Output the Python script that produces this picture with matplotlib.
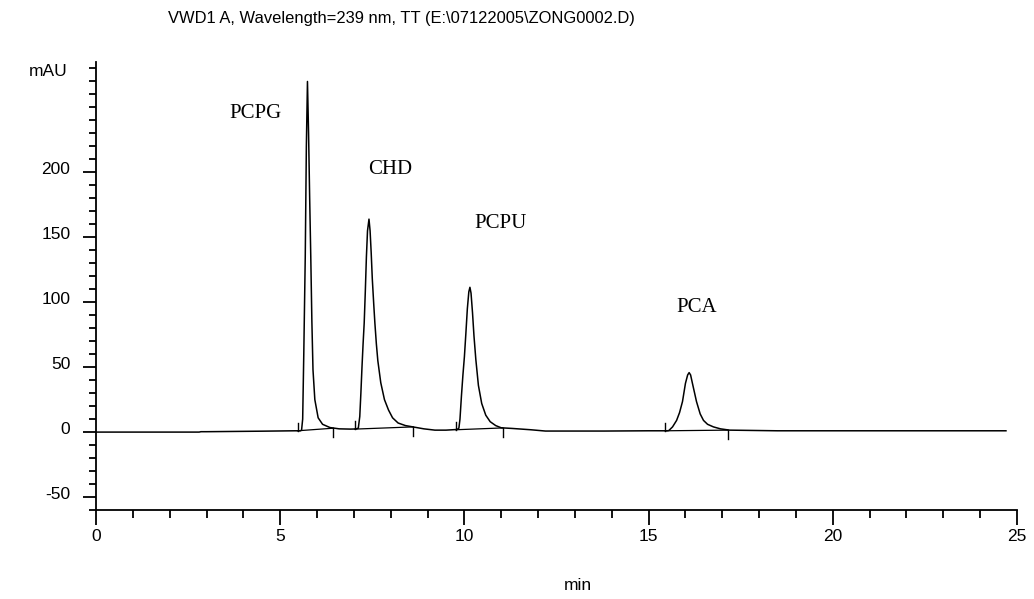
import numpy as np
from matplotlib import pyplot as plt
from matplotlib.ticker import FixedLocator, MultipleLocator
from matplotlib.transforms import ScaledTranslation

plt.rcParams['axes.unicode_minus'] = False

# 色谱图数据 (时间 min, 信号 mAU)
trace_t = [0, 2.8, 2.85, 3.0, 4.5, 5.4, 5.55,
           5.58, 5.61, 5.64, 5.68, 5.71, 5.74, 5.77, 5.80, 5.83, 5.86, 5.89, 5.94,
           6.03, 6.15, 6.35, 6.6, 6.9, 7.05,
           7.12, 7.16, 7.19, 7.22, 7.25, 7.28, 7.31, 7.34, 7.37, 7.41, 7.44, 7.47,
           7.50, 7.54, 7.57, 7.61, 7.65, 7.73, 7.83, 7.94, 8.05, 8.2, 8.4, 8.6,
           8.9, 9.2, 9.5, 9.8,
           9.85, 9.88, 9.92, 9.96, 10.0, 10.04, 10.08, 10.12, 10.15, 10.18, 10.22,
           10.26, 10.31, 10.38, 10.47, 10.58, 10.7, 10.85, 11.0, 11.3, 11.8, 12.2,
           13.8, 15.0, 15.5,
           15.55, 15.65, 15.76, 15.84, 15.92, 16.0, 16.06, 16.1, 16.14, 16.19, 16.3,
           16.4, 16.49, 16.6, 16.76, 16.95, 17.2, 18.5, 24.7]
trace_mau = [0, 0, 0.3, 0.3, 0.7, 1, 1,
             1.5, 10, 60, 135, 220, 270, 230, 180, 135, 85, 48, 25,
             11, 6, 3.5, 2.5, 2.3, 2.4,
             3, 12, 30, 50, 68, 84, 108, 135, 155, 164, 155, 138,
             118, 98, 84, 68, 55, 38, 25, 17, 11, 7, 5, 4,
             2.5, 1.5, 1.5, 2,
             3, 10, 28, 44, 58, 76, 95, 108, 111.5, 107, 92,
             74, 56, 36, 22, 13, 8, 5, 3.3, 2.8, 1.8, 0.8,
             0.8, 1, 1,
             1.2, 4, 9, 15, 23.5, 37.5, 44, 45.8, 44, 37.5, 23.5,
             14, 9, 6, 4, 2.5, 1.5, 1, 1]

# 峰名及标注位置
peak_names = ['PCPG', 'CHD', 'PCPU', 'PCA']
label_t = [4.32, 7.98, 10.97, 16.31]
label_mau = [245, 202, 161, 96]

# 积分基线起点和终点
int_start = [5.47, 7.03, 9.77, 15.45]
int_start_y = [1, 2.3, 1.8, 1]
int_end = [6.44, 8.61, 11.04, 17.15]
int_end_y = [3, 4, 3.2, 1.5]

fig = plt.figure(figsize=(10.34, 5.99), dpi=100)
ax = fig.add_axes([96 / 1034, 89 / 599, 921 / 1034, 448 / 599])

ax.plot(trace_t, trace_mau, color='black', lw=1.1)
for i in range(len(int_start)):
    ax.plot([int_start[i], int_end[i]], [int_start_y[i], int_end_y[i]], color='black', lw=0.9)
    ax.plot([int_start[i], int_start[i]], [int_start_y[i], int_start_y[i] + 6], color='black', lw=1.0)
    ax.plot([int_end[i], int_end[i]], [int_end_y[i], int_end_y[i] - 7], color='black', lw=1.0)

for name, t, y in zip(peak_names, label_t, label_mau):
    ax.text(t, y, name, ha='center', va='center', fontsize=15, family='Liberation Serif')

ax.set_xlim(0, 25)
ax.set_ylim(-60, 285)
for s in ['top', 'right']:
    ax.spines[s].set_visible(False)
for s in ['left', 'bottom']:
    ax.spines[s].set_linewidth(1.3)

ax.xaxis.set_major_locator(FixedLocator([0, 5, 10, 15, 20, 25]))
ax.xaxis.set_minor_locator(MultipleLocator(1))
ax.yaxis.set_major_locator(FixedLocator([-50, 0, 50, 100, 150, 200]))
ax.yaxis.set_minor_locator(MultipleLocator(10))
ax.tick_params(axis='x', which='major', length=11, width=1.3, pad=3, labelsize=12.5)
ax.tick_params(axis='x', which='minor', length=5.5, width=1.3)
ax.tick_params(axis='y', which='major', length=9.4, width=1.3, pad=9, labelsize=12.5)
ax.tick_params(axis='y', which='minor', length=5, width=1.3)
shift = ScaledTranslation(0, 4 / 100, fig.dpi_scale_trans)
for lab in ax.get_xticklabels():
    lab.set_family('Liberation Sans')
for lab in ax.get_yticklabels():
    lab.set_family('Liberation Sans')
    lab.set_transform(lab.get_transform() + shift)

fig.text(401 / 1034, 1 - 18 / 599, 'VWD1 A, Wavelength=239 nm, TT (E:\\07122005\\ZONG0002.D)',
         ha='center', va='center', fontsize=11.85, family='Liberation Sans')
fig.text(48 / 1034, 1 - 72 / 599, 'mAU', ha='center', va='center', fontsize=12.5, family='Liberation Sans')
fig.text(578 / 1034, 1 - 585 / 599, 'min', ha='center', va='center', fontsize=12.5, family='Liberation Sans')

fig.savefig('out.png', dpi=100)
